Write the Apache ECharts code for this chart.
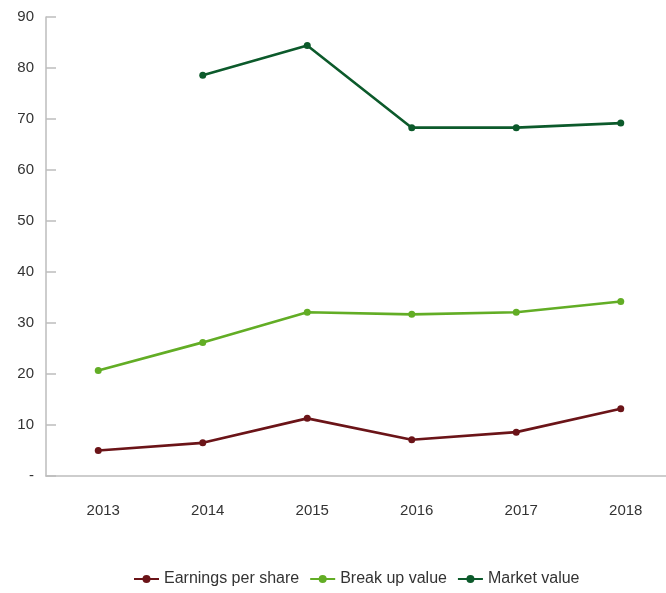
<!DOCTYPE html>
<html>
<head>
<meta charset="utf-8">
<script src="https://cdn.jsdelivr.net/npm/echarts@6/dist/echarts.min.js"></script>
<style>html,body{margin:0;padding:0;background:#fff;}#c{width:666px;height:593px;}</style>
</head>
<body>
<div id="c"></div>
<script>
var categories = ['2013', '2014', '2015', '2016', '2017', '2018'];
var earningsPerShare = [5.0, 6.5, 11.3, 7.1, 8.6, 13.2];
var breakUpValue = [20.7, 26.2, 32.1, 31.7, 32.1, 34.2];
var marketValue = [null, 78.6, 84.4, 68.3, 68.3, 69.2];
var yTicks = { min: 0, max: 90, interval: 10 };

var chart = echarts.init(document.getElementById('c'));
var font = 'Liberation Sans, Arial, sans-serif';
function mkSeries(name, data, color) {
  return {
    name: name, type: 'line', data: data,
    symbol: 'circle', symbolSize: 7,
    lineStyle: { width: 2.6, color: color },
    itemStyle: { color: color },
    connectNulls: false
  };
}
chart.setOption({
  animation: false,
  grid: { left: 46, top: 17, bottom: 117, width: 627, outerBoundsMode: 'none', containLabel: false },
  legend: {
    bottom: 1, left: 128,
    itemWidth: 25, itemHeight: 10, itemGap: 10,
    textStyle: { fontFamily: font, fontSize: 16, color: '#333' },
    data: ['Earnings per share', 'Break up value', 'Market value']
  },
  xAxis: {
    type: 'category', data: categories, boundaryGap: true,
    axisLine: { lineStyle: { color: '#bdbdbd', width: 1.5 } },
    axisTick: { show: false },
    axisLabel: { fontFamily: font, fontSize: 15, color: '#333', margin: 27, padding: [0, 0, 0, 10] }
  },
  yAxis: {
    type: 'value', min: yTicks.min, max: yTicks.max, interval: yTicks.interval,
    axisLine: { show: true, lineStyle: { color: '#bdbdbd', width: 1.5 } },
    axisTick: { show: true, inside: true, length: 10, lineStyle: { color: '#bdbdbd', width: 1.5 } },
    splitLine: { show: false },
    axisLabel: {
      fontFamily: font, fontSize: 15, color: '#333', margin: 12,
      formatter: function (v) { return v === 0 ? '-' : String(v); }
    }
  },
  series: [
    mkSeries('Earnings per share', earningsPerShare, '#6b1418'),
    mkSeries('Break up value', breakUpValue, '#62ad25'),
    mkSeries('Market value', marketValue, '#0c5a2b')
  ]
});
</script>
</body>
</html>
